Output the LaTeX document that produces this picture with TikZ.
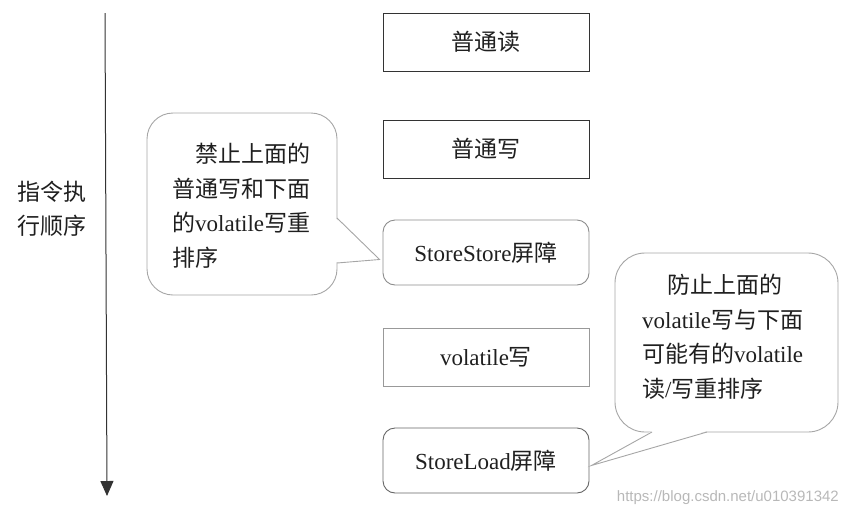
\documentclass[tikz,border=0pt]{standalone}
\usepackage{fontspec}
\setmainfont{Liberation Serif}
\newfontfamily\cjk{Noto Sans CJK SC}
\newfontfamily\wmfont{Liberation Sans}
\usetikzlibrary{arrows.meta}
\tikzset{
  txt/.style={font=\fontsize{23}{34.5}\selectfont, text=black!88},
  stepbox/.style={txt, draw, line width=0.9pt, minimum width=206pt, minimum height=58pt, inner sep=0pt},
  barrier/.style={stepbox, rounded corners=12pt, minimum height=65pt},
  bubble/.style={draw=black!35, line width=0.9pt, fill=white},
}
\begin{document}
\begin{tikzpicture}[x=1pt,y=-1pt]
\useasboundingbox (0,0) rectangle (848,517);
% time arrow
\coordinate (atop) at (105,13);
\coordinate (abot) at (107,496);
\draw[black!80, line width=1pt, -{Triangle[length=15pt,width=13pt]}] (atop) -- (abot);
\node[txt, align=center] (order) at (52,209) {{\cjk 指令执}\\{\cjk 行顺序}};
% boxes
\node[stepbox, draw=black!80] (r) at (486,42) {\cjk 普通读};
\node[stepbox, draw=black!80] (w) at (486,149) {\cjk 普通写};
\node[barrier, draw=black!45] (ss) at (486,252.5) {StoreStore{\cjk 屏障}};
\node[stepbox, draw=black!40] (vw) at (486,357) {volatile{\cjk 写}};
\node[barrier, draw=black!60] (sl) at (486,460.5) {StoreLoad{\cjk 屏障}};
% callout 1
\coordinate (t1) at ([xshift=-3pt,yshift=-7pt]ss.west);
\draw[bubble, rounded corners=26pt] (147,113) rectangle (337,295);
\fill[white] (336,218.7) -- (t1) -- (336,262.3) -- cycle;
\draw[bubble, fill=none, line join=miter] (337,218) -- (t1) -- (337,263);
\node[txt, align=left, anchor=north west, inner sep=0pt] (c1) at (172,143)
  {\hspace*{23pt}{\cjk 禁止上面的}\\{\cjk 普通写和下面}\\{\cjk 的}volatile{\cjk 写重}\\{\cjk 排序}};
% callout 2
\coordinate (t2) at ([xshift=2pt,yshift=-5pt]sl.east);
\draw[bubble, rounded corners=30pt] (615,253) rectangle (838,432);
\fill[white] (652,431) -- (t2) -- (707,431) -- cycle;
\draw[bubble, fill=none, line join=miter] (652,432) -- (t2) -- (707,432);
\node[txt, align=left, anchor=north west, inner sep=0pt] (c2) at (642,274)
  {\hspace*{25pt}{\cjk 防止上面的}\\volatile{\cjk 写与下面}\\{\cjk 可能有的}volatile\\{\cjk 读}/{\cjk 写重排序}};
% watermark
\node[font=\wmfont\fontsize{15}{15}\selectfont, text=black!28, anchor=east, inner sep=0pt] (wm) at (839,498) {https://blog.csdn.net/u010391342};
\end{tikzpicture}
\end{document}
